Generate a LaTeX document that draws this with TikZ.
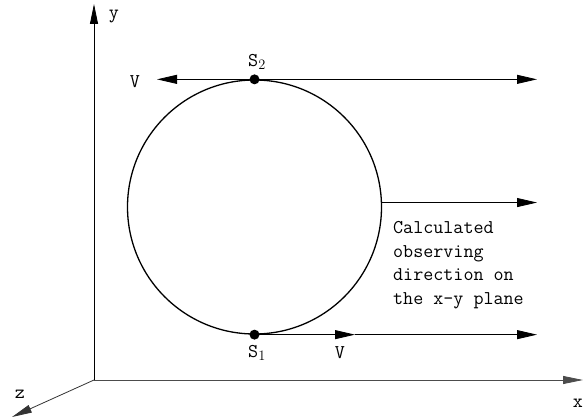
\documentclass[tikz,border=0pt]{standalone}
\usepackage{amsmath}
\usepackage{xcolor}
\usepackage{tikz}
\usetikzlibrary{arrows,positioning,calc,arrows.meta}

\begin{document}
\begin{tikzpicture}[x=1pt, y=-1pt,
  lbl/.style={font=\fontsize{19.5}{23.5}\selectfont\ttfamily, inner sep=0pt},
  arr/.style={-{Triangle[length=20pt, width=9pt]}, line width=0.8pt},
  ax/.style={-{Triangle[length=20pt, width=8pt]}, line width=0.8pt},
  dot/.style={circle, fill=black, inner sep=0pt, minimum size=10pt}]
  \useasboundingbox (0,0) rectangle (583,419);
  % Axes
  \coordinate (O) at (94,380);
  \coordinate (xend) at (583,380);
  \coordinate (yend) at (94,4);
  \coordinate (zend) at (12,417);
  \draw[ax, black!70] (O) -- (xend);
  \draw[ax] (O) -- (yend);
  \draw[ax, black!80] (O) -- (zend);
  \node[lbl] (xl) at (578,403) {x};
  \node[lbl] (yl) at (114,17) {y};
  \node[lbl] (zl) at (20,394) {z};
  % Circle and points
  \node[draw, circle, line width=1.3pt, minimum size=254pt, inner sep=0pt] (c) at (254.5,207) {};
  \node[dot] (s2) at (c.north) {};
  \node[dot] (s1) at (c.south) {};
  \node[lbl] (s2l) at (257,62) {S$_2$};
  \node[lbl] (s1l) at (257,353) {S$_1$};
  % Observing directions
  \coordinate (topL) at (157,80);
  \coordinate (rgt) at (537,0);
  \coordinate (botV) at (355,0);
  \draw[arr] (s2.center) -- (s2.center -| topL);
  \draw[arr] (s2.center) -- (s2.center -| rgt);
  \draw[arr] (c.2) -- (c.2 -| rgt);
  \draw[arr] (s1.center) -- (s1.center -| botV);
  \draw[arr] (s1.center -| botV) -- (s1.center -| rgt);
  \node[lbl] (vtop) at (135,82) {V};
  \node[lbl] (vbot) at (340,353) {V};
  \node[lbl, align=left, anchor=west] (txt) at (393,265)
    {Calculated\\observing\\direction on\\the x-y plane};
\end{tikzpicture}
\end{document}
